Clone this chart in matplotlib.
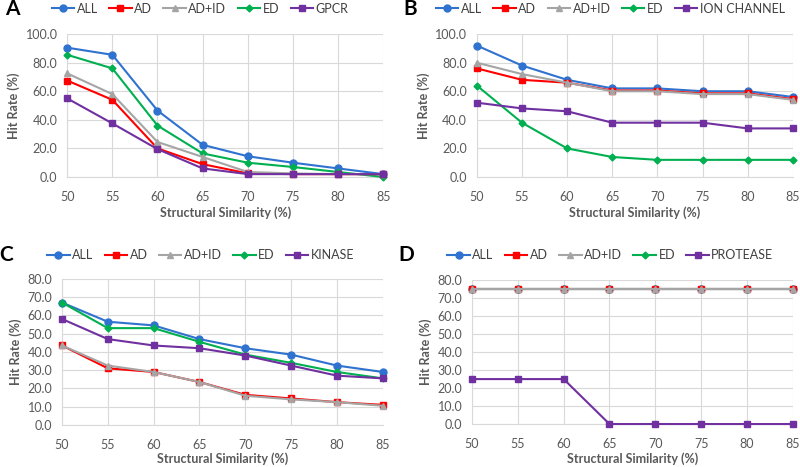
import matplotlib
matplotlib.use("Agg")
import matplotlib.pyplot as plt

plt.rcParams['font.family'] = ['Lato', 'DejaVu Sans']

# x values shared by all panels
sim = [50, 55, 60, 65, 70, 75, 80, 85]

# Panel A - GPCR
a_all = [90.5, 85.5, 46.5, 22.5, 14.5, 10, 6, 2]
a_ad = [67.5, 54, 20, 9, 2.5, 2, 2, 2]
a_adid = [72.5, 58, 24.5, 14, 3.5, 2.5, 2, 2]
a_ed = [85.5, 76, 36, 16.5, 10, 7, 3.5, 0]
a_grp = [55, 37.5, 19.5, 6, 2, 2, 2, 2]

# Panel B - ION CHANNEL
b_all = [92, 78, 68, 62, 62, 60, 60, 56]
b_ad = [76, 68, 66, 60.5, 60.5, 58.5, 58.5, 54.5]
b_adid = [80, 72, 66, 60, 60, 58, 58, 54]
b_ed = [64, 38, 20, 14, 12, 12, 12, 12]
b_grp = [52, 48, 46, 38, 38, 38, 34, 34]

# Panel C - KINASE
c_all = [67, 56.5, 54.5, 47, 42, 38.5, 32.5, 29]
c_ad = [43.5, 31, 29, 23.5, 16.5, 14.5, 12.5, 11]
c_adid = [43.5, 32.5, 29, 23.5, 16, 14, 12.5, 10.5]
c_ed = [67, 53, 53, 45.5, 38.5, 34, 29, 25.5]
c_grp = [58, 47, 43.5, 42, 38, 32.5, 27, 25.5]

# Panel D - PROTEASE
d_all = [75] * 8
d_ad = [75] * 8
d_adid = [75] * 8
d_ed = [75] * 8
d_grp = [25, 25, 25, 0, 0, 0, 0, 0]

panels = [
    ("A", "GPCR", [a_all, a_ad, a_adid, a_ed, a_grp], 100, 20, [0.084, 0.621, 0.395, 0.306], 0.25, 0.981, 0.531),
    ("B", "ION CHANNEL", [b_all, b_ad, b_adid, b_ed, b_grp], 100, 20, [0.596, 0.621, 0.395, 0.306], 0.763, 0.981, 0.531),
    ("C", "KINASE", [c_all, c_ad, c_adid, c_ed, c_grp], 80, 10, [0.0775, 0.090, 0.401, 0.313], 0.251, 0.454, 0.004),
    ("D", "PROTEASE", [d_all, d_ad, d_adid, d_ed, d_grp], 80, 10, [0.590, 0.092, 0.401, 0.308], 0.763, 0.454, 0.004),
]

colors = ['#2F72CF', '#FF0000', '#A5A5A5', '#00B050', '#7030A0']
markers = ['o', 's', '^', 'D', 's']
msizes = [5, 4.5, 4.5, 3.5, 4.5]
zorders = [3, 4, 5, 3.5, 6]
text_col = '#595959'
grid_col = '#D9D9D9'

fig = plt.figure(figsize=(8, 4.67), dpi=100)

for letter, group, series, ymax, ystep, pos, legx, legy, xlaby in panels:
    ax = fig.add_axes(pos)
    names = ['ALL', 'AD', 'AD+ID', 'ED', group]
    handles = []
    for vals, name, c, m, ms, z in zip(series, names, colors, markers, msizes, zorders):
        h, = ax.plot(sim, vals, color=c, marker=m, markersize=ms, lw=1.5,
                     label=name, clip_on=False, zorder=z)
        handles.append(h)
    ax.set_xlim(50, 85)
    ax.set_ylim(0, ymax)
    ax.set_xticks(sim)
    ax.set_yticks(range(0, ymax + 1, ystep))
    ax.set_yticklabels([f"{v:.1f}" for v in range(0, ymax + 1, ystep)])
    ax.grid(True, color=grid_col, lw=0.8)
    ax.set_axisbelow(True)
    for s in ['top', 'right']:
        ax.spines[s].set_visible(False)
    for s in ['left', 'bottom']:
        ax.spines[s].set_color(grid_col)
        ax.spines[s].set_linewidth(0.8)
    ax.tick_params(axis='x', length=0, colors=text_col, labelsize=9, pad=10)
    ax.tick_params(axis='y', length=0, colors=text_col, labelsize=9, pad=7)
    ax.set_ylabel("Hit Rate (%)", color=text_col, fontsize=9, fontweight='bold', labelpad=4)
    fig.text(pos[0] + pos[2] / 2, xlaby, "Structural Similarity (%)", color=text_col,
             fontsize=9, fontweight='bold', ha='center', va='bottom')
    fig.legend(handles=handles, loc='center', bbox_to_anchor=(legx, legy), ncol=5,
               frameon=False, fontsize=9, handlelength=1.8, handletextpad=0.2,
               columnspacing=0.9, labelcolor='#404040')
    fig.text(pos[0] - 0.078 if letter in "AC" else pos[0] - 0.092, legy, letter,
             fontsize=15, fontweight='bold', ha='left', va='center')

fig.savefig("out.png", dpi=100)
